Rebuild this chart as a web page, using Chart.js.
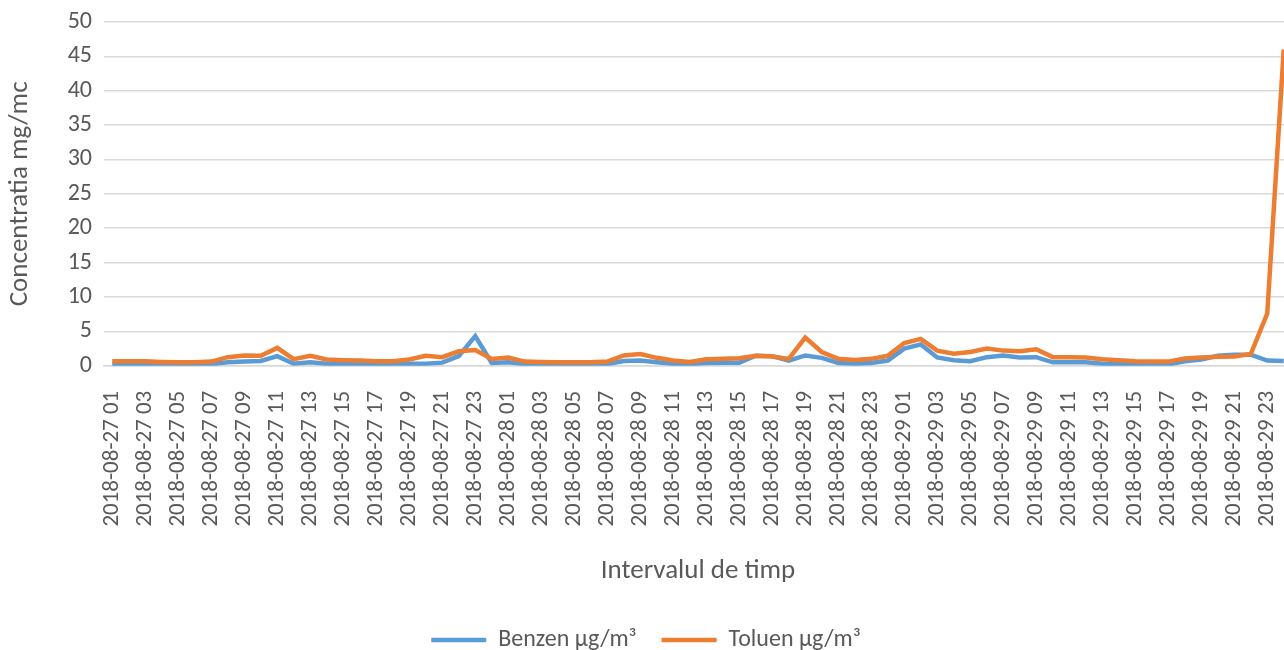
<!DOCTYPE html>
<html>
<head>
<meta charset="utf-8">
<script src="https://cdn.jsdelivr.net/npm/chart.js@4.4.0/dist/chart.umd.min.js"></script>
<style>
  html, body { margin: 0; padding: 0; background: #fff; overflow: hidden; }
  #wrap { width: 1292px; height: 662px; }
</style>
</head>
<body>
<div id="wrap"><canvas id="chart"></canvas></div>
<script>
// hourly readings, 2018-08-27 01 .. 2018-08-30 00
const hoursFirstDay = ['01','02','03','04','05','06','07','08','09','10','11','12','13','14','15','16','17','18','19','20','21','22','23'];
const hoursFullDay = ['00','01','02','03','04','05','06','07','08','09','10','11','12','13','14','15','16','17','18','19','20','21','22','23'];

const labels = [
    ...hoursFirstDay.map(h => '2018-08-27 ' + h),
    ...hoursFullDay.map(h => '2018-08-28 ' + h),
    ...hoursFullDay.map(h => '2018-08-29 ' + h),
    '2018-08-30 00'
];

const benzen = [
    0.25, 0.25, 0.25, 0.2, 0.2, 0.2, 0.25, 0.5, 0.6, 0.7, 1.4, 0.3,
    0.5, 0.3, 0.25, 0.25, 0.2, 0.2, 0.3, 0.3, 0.45, 1.4, 4.3, 0.4,
    0.5, 0.25, 0.2, 0.15, 0.15, 0.2, 0.25, 0.7, 0.75, 0.5, 0.3, 0.25,
    0.4, 0.45, 0.45, 1.45, 1.4, 0.75, 1.5, 1.15, 0.4, 0.3, 0.4, 0.75,
    2.5, 3.1, 1.2, 0.8, 0.65, 1.25, 1.5, 1.2, 1.25, 0.5, 0.5, 0.5,
    0.3, 0.25, 0.2, 0.2, 0.2, 0.65, 0.9, 1.45, 1.6, 1.6, 0.75, 0.7
];

const toluen = [
    0.65, 0.65, 0.65, 0.55, 0.5, 0.5, 0.6, 1.25, 1.5, 1.45, 2.6, 0.95,
    1.45, 0.9, 0.8, 0.75, 0.65, 0.65, 0.9, 1.45, 1.25, 2.1, 2.3, 1.0,
    1.2, 0.6, 0.55, 0.5, 0.5, 0.5, 0.6, 1.5, 1.7, 1.15, 0.75, 0.55,
    0.95, 1.0, 1.1, 1.45, 1.35, 1.0, 4.1, 2.0, 1.0, 0.85, 1.0, 1.45,
    3.3, 3.9, 2.2, 1.75, 2.0, 2.5, 2.2, 2.1, 2.4, 1.25, 1.25, 1.2,
    0.95, 0.8, 0.65, 0.6, 0.6, 1.05, 1.2, 1.3, 1.35, 1.7, 7.6, 46
];

const fontFamily = "Carlito, Lato, sans-serif";
const textColor = '#595959';
const gridColor = '#d9d9d9';

Chart.defaults.font.family = fontFamily;
Chart.defaults.color = textColor;

new Chart(document.getElementById('chart').getContext('2d'), {
    type: 'line',
    data: {
        labels: labels,
        datasets: [
            {
                label: 'Benzen µg/m³',
                data: benzen,
                borderColor: '#5b9bd5',
                backgroundColor: '#5b9bd5',
                borderWidth: 4.5,
                pointRadius: 0,
                tension: 0,
                order: 2
            },
            {
                label: 'Toluen µg/m³',
                data: toluen,
                borderColor: '#ed7d31',
                backgroundColor: '#ed7d31',
                borderWidth: 4.5,
                pointRadius: 0,
                tension: 0,
                order: 1
            }
        ]
    },
    options: {
        responsive: true,
        maintainAspectRatio: false,
        animation: false,
        layout: { padding: { top: 22, right: 0, bottom: 0, left: 0 } },
        plugins: {
            tooltip: { enabled: false },
            legend: {
                position: 'bottom',
                labels: {
                    font: { size: 24 },
                    color: textColor,
                    usePointStyle: true,
                    pointStyle: 'line',
                    pointStyleWidth: 55,
                    padding: 25,
                    sort: (a, b) => a.datasetIndex - b.datasetIndex
                }
            }
        },
        scales: {
            x: {
                offset: true,
                afterFit: scale => { scale.paddingLeft = 0; scale.paddingRight = 0; },
                grid: { display: false, drawTicks: false },
                border: { display: true, color: gridColor, width: 1.5 },
                ticks: {
                    autoSkip: false,
                    maxRotation: 90,
                    minRotation: 90,
                    padding: 25,
                    font: { size: 23 },
                    callback: function(value, index) {
                        return index % 2 === 0 ? this.getLabelForValue(value) : '';
                    }
                },
                title: {
                    display: true,
                    text: 'Intervalul de timp',
                    font: { size: 27 },
                    padding: { top: 3, bottom: 16 }
                }
            },
            y: {
                min: 0,
                max: 50,
                afterFit: scale => {
                    scale.width = 104;
                    scale.paddingTop = 0;
                    scale.paddingBottom = 0;
                },
                grid: { color: gridColor, lineWidth: 1.5, drawTicks: false },
                border: { display: false },
                ticks: { stepSize: 5, padding: 12, font: { size: 24 } },
                title: {
                    display: true,
                    text: 'Concentratia mg/mc',
                    font: { size: 27 },
                    padding: { top: 4, bottom: 0 }
                }
            }
        }
    }
});
</script>
</body>
</html>
